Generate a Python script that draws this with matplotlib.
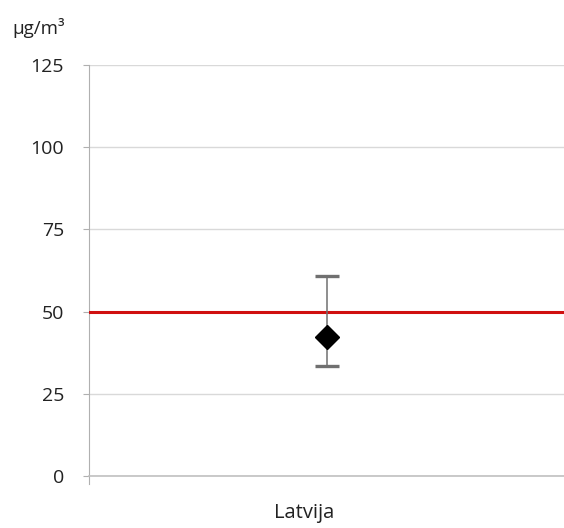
import matplotlib.pyplot as plt

# Data
categories = ["Latvija"]
mean_values = [42.2]
lower_values = [33.5]
upper_values = [60.8]
limit_value = 50
y_ticks = [0, 25, 50, 75, 100, 125]

plt.rcParams["font.family"] = ["Open Sans", "DejaVu Sans"]

fig = plt.figure(figsize=(5.64, 5.28), dpi=100)
ax = fig.add_axes([89 / 564, 52 / 528, 475 / 564, 411 / 528])

x = list(range(len(categories)))
err_low = [m - lo for m, lo in zip(mean_values, lower_values)]
err_high = [hi - m for m, hi in zip(mean_values, upper_values)]

# limit line
ax.axhline(limit_value, color="#d01010", lw=2.2, zorder=3)

ax.errorbar(x, mean_values, yerr=[err_low, err_high], fmt="none",
            ecolor="#707070", elinewidth=1.1, capsize=8.5, capthick=2.4, zorder=4)
ax.plot(x, mean_values, marker="D", markersize=12, color="black", linestyle="none", zorder=5)

ax.set_xlim(-0.5, 0.5)
ax.set_ylim(0, 125)
ax.set_yticks(y_ticks)
ax.set_yticklabels([str(t) for t in y_ticks], fontsize=14, color="#222222")
ax.tick_params(axis="y", length=4, width=0.8, color="#b0b0b0", pad=14)
ax.set_xticks([])

ax.grid(axis="y", color="#d9d9d9", lw=1.0, zorder=0)
ax.set_axisbelow(True)

for side in ["top", "right"]:
    ax.spines[side].set_visible(False)
ax.spines["left"].set_color("#b0b0b0")
ax.spines["left"].set_linewidth(0.8)
ax.spines["left"].set_bounds(-2.5, 125)
ax.spines["bottom"].set_color("#c0c0c0")
ax.spines["bottom"].set_linewidth(1.2)

# category label (sits a bit left of centre in the original)
ax.text(0.452, -0.09, categories[0], transform=ax.transAxes, ha="center", va="center",
        fontsize=14.5, color="#222222")

fig.text(12 / 564, 1 - 28 / 528, "µg/m³", ha="left", va="center", fontsize=13.5, color="#222222")

fig.savefig("out.png", dpi=100)
